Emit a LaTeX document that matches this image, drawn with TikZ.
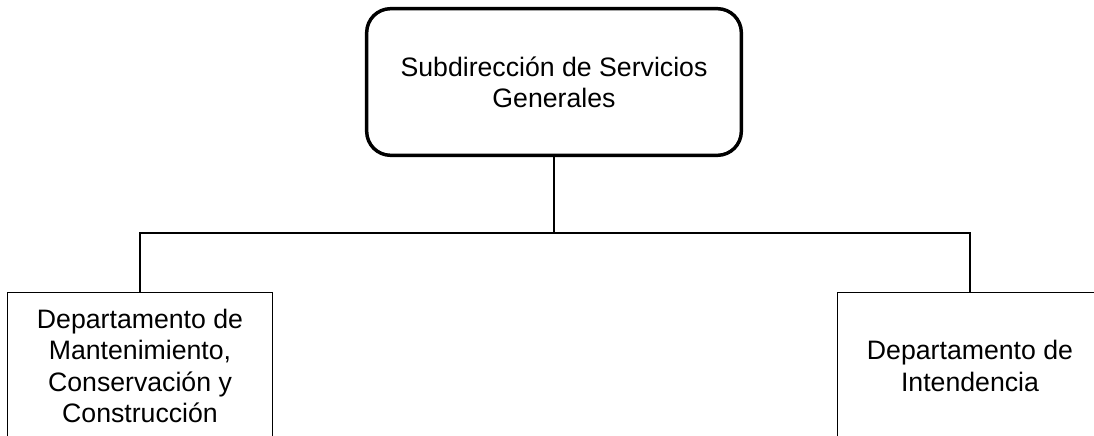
\documentclass[tikz,border=0pt]{standalone}
\usepackage{fontspec}
\setmainfont{Liberation Sans}
\begin{document}
\begin{tikzpicture}[x=0.75pt,y=-0.75pt]
        \tikzstyle{every node}= [draw=black, line width=1.2pt, align=center, inner sep=0pt,
          font=\fontsize{20}{23.5}\selectfont];
        \tikzstyle{jefe}= [rounded corners=18pt, line width=2.6pt, minimum width=281pt, minimum height=110pt];
        \tikzstyle{depto}= [minimum width=199pt, minimum height=110pt];
        \useasboundingbox (0,0) rectangle (1094,435);
        \clip (0,0) rectangle (1094,435);

        \node(sub)[jefe] at (554,82) {Subdirección de Servicios\\Generales};
        \node(mant)[depto] at (140,366) {Departamento de\\Mantenimiento,\\Conservación y\\Construcción};
        \node(int)[depto] at (970,366) {Departamento de\\Intendencia};

        \coordinate(bus) at (554,233);
        \draw[line width=1.2pt] (sub) -- (bus);
        \draw[line width=1.2pt] (mant.north) |- (bus) -| (int.north);
      \end{tikzpicture}
\end{document}
